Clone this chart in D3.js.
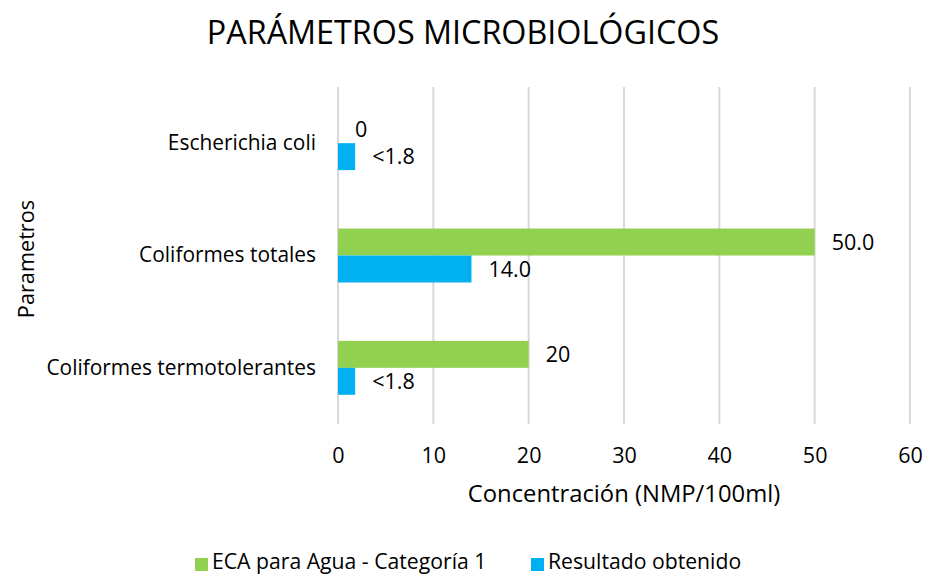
<!DOCTYPE html>
<html><head><meta charset="utf-8">
<script src="https://cdn.jsdelivr.net/npm/d3@7/dist/d3.min.js"></script>
<style>body{margin:0;background:#fff}svg{display:block}text{font-family:"Open Sans",sans-serif;fill:#000}</style>
</head><body><svg id="c" width="927" height="575"></svg>
<script>
const categories = ["Escherichia coli", "Coliformes totales", "Coliformes termotolerantes"];
const seriesNames = ["ECA para Agua - Categoría 1", "Resultado obtenido"];
const ecaValues = [0, 50, 20];
const resultValues = [1.8, 14, 1.8];
const ecaLabels = ["0", "50.0", "20"];
const resultLabels = ["<1.8", "14.0", "<1.8"];
const xTicks = [0, 10, 20, 30, 40, 50, 60];
const colors = ["#92D050", "#00B0F0"];
const FONT = '"Open Sans",sans-serif';

const svg = d3.select("#c");
const x = d3.scaleLinear().domain([0, 60]).range([338, 910]);
const y = d3.scaleBand().domain(categories).range([87, 424]).paddingInner(0.52).paddingOuter(0.26);
const inner = d3.scaleBand().domain([0, 1]).range([0, y.bandwidth()]);

svg.append("g").selectAll("line").data(xTicks).join("line")
  .attr("x1", d => x(d)).attr("x2", d => x(d)).attr("y1", 87).attr("y2", 424)
  .attr("stroke", "#d9d9d9").attr("stroke-width", 2);

const series = [ecaValues, resultValues];
const labels = [ecaLabels, resultLabels];
series.forEach((vals, si) => {
  const g = svg.append("g");
  g.selectAll("rect").data(categories).join("rect")
    .attr("x", x(0)).attr("y", c => y(c) + inner(si))
    .attr("width", (c, i) => x(vals[i]) - x(0)).attr("height", inner.bandwidth())
    .attr("fill", colors[si]);
  g.selectAll("text").data(categories).join("text")
    .attr("x", (c, i) => x(vals[i]) + 17)
    .attr("y", c => y(c) + inner(si) + inner.bandwidth() / 2)
    .attr("dy", "0.35em").attr("font-size", 21.5).text((c, i) => labels[si][i]);
});

const xa = svg.append("g").attr("transform", "translate(0,424)")
  .call(d3.axisBottom(x).tickValues(xTicks).tickSize(0).tickPadding(24).tickFormat(d3.format("d")));
xa.select(".domain").remove();
xa.selectAll("text").attr("font-size", 21.5).style("font-family", FONT).attr("fill", "#000");

const ya = svg.append("g").attr("transform", "translate(338,0)")
  .call(d3.axisLeft(y).tickSize(0).tickPadding(22));
ya.select(".domain").remove();
ya.selectAll("text").attr("font-size", 20.9).style("font-family", FONT).attr("fill", "#000");

svg.append("text").attr("x", 463).attr("y", 33).attr("dy", "0.35em").attr("text-anchor", "middle")
  .attr("font-size", 32.3).text("PARÁMETROS MICROBIOLÓGICOS");
svg.append("text").attr("x", 624).attr("y", 494).attr("dy", "0.35em").attr("text-anchor", "middle")
  .attr("font-size", 23.8).text("Concentración (NMP/100ml)");
svg.append("text").attr("transform", "translate(26,259) rotate(-90)").attr("dy", "0.35em").attr("text-anchor", "middle")
  .attr("font-size", 21.7).text("Parametros");

const legX = [195, 531];
const leg = svg.append("g");
seriesNames.forEach((n, i) => {
  leg.append("rect").attr("x", legX[i]).attr("y", 558).attr("width", 13).attr("height", 13).attr("fill", colors[i]);
  leg.append("text").attr("x", legX[i] + 17).attr("y", 569).attr("font-size", 21.2).text(n);
});
</script></body></html>
